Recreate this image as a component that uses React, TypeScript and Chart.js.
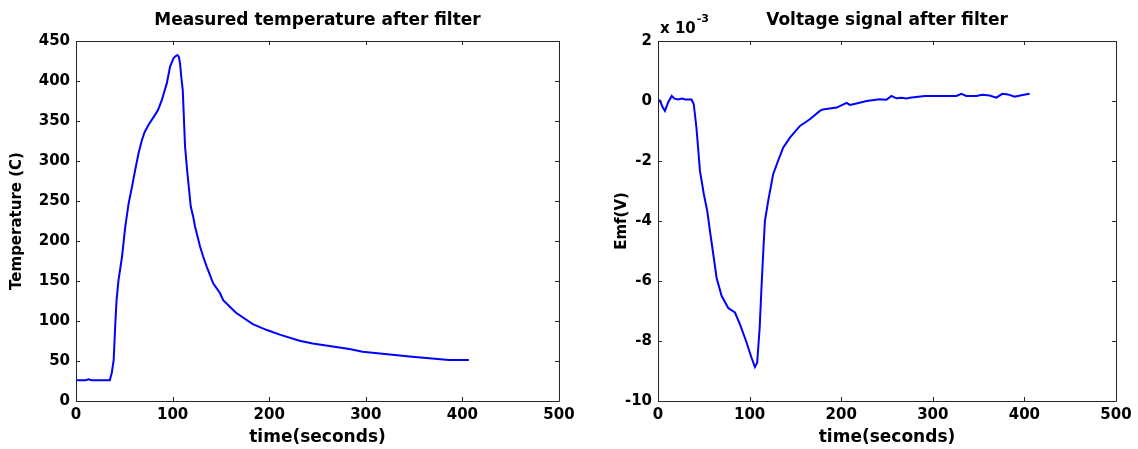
import React, { useEffect, useRef } from 'react';
import { Chart, registerables } from 'chart.js';

Chart.register(...registerables);

// ---------- data ----------
const tempTime = [0, 5, 10, 13, 16, 25, 35, 37, 39, 40.7, 42, 44, 47.6, 51, 54.5, 58, 61.3, 64.8, 68.2, 71, 75, 82, 85, 88.8, 91, 94, 97.4, 100.8, 103, 105, 106.5, 107.7, 109, 110.5, 112.9, 115.3, 118.8, 121.4, 123.2, 128.4, 131.8, 135.3, 142, 149, 152.4, 162.7, 166, 183, 197, 200.5, 211, 231.4, 245, 283, 296.7, 348, 386, 406.7];
const tempValues = [26, 25.8, 26, 27, 26, 25.8, 25.8, 35, 51, 97, 126, 151, 180, 218, 247, 268, 289, 310, 326, 336, 345, 358, 364, 376, 385, 397, 418, 428, 431, 432.5, 430, 422, 405, 389, 318, 285, 243, 230, 218, 193, 180, 168, 147, 135, 126, 113.7, 110, 96, 89, 87.5, 83, 75.4, 72, 65, 61.6, 55.4, 51.2, 51.2];

const emfTime = [0, 2, 5, 7.6, 11, 15, 18, 22, 26, 30, 36.6, 39, 42, 45.8, 50, 53.8, 56.7, 60.3, 64, 69.5, 76.7, 84, 89.4, 96.7, 102, 105.8, 108.3, 111, 113, 114.8, 116.7, 120.3, 125.7, 131, 136.6, 144, 155, 165.8, 176.7, 180, 195, 206, 209.4, 216.7, 227.6, 242, 249.4, 254.8, 260.3, 265.7, 271.2, 274.8, 291.2, 325.7, 331.2, 336.6, 347.5, 354, 362, 369.3, 375.9, 382, 389.3, 396.6, 405.7];
// Emf in units of 10^-3 V
const emfValues = [0, 0.02, -0.2, -0.33, -0.05, 0.17, 0.08, 0.05, 0.08, 0.05, 0.05, -0.1, -0.9, -2.33, -3.1, -3.67, -4.33, -5.1, -5.9, -6.5, -6.9, -7.05, -7.44, -8.05, -8.55, -8.87, -8.72, -7.55, -6.2, -5.1, -4.0, -3.33, -2.44, -2.0, -1.56, -1.22, -0.83, -0.61, -0.33, -0.28, -0.22, -0.06, -0.13, -0.08, 0, 0.06, 0.04, 0.17, 0.09, 0.11, 0.08, 0.11, 0.17, 0.17, 0.24, 0.17, 0.17, 0.21, 0.18, 0.11, 0.24, 0.22, 0.14, 0.19, 0.24];

const xTicks = [0, 100, 200, 300, 400, 500];
const tempTicks = [0, 50, 100, 150, 200, 250, 300, 350, 400, 450];
const emfTicks = [-10, -8, -6, -4, -2, 0, 2];

const leftTitle = 'Measured temperature after filter';
const rightTitle = 'Voltage signal after filter';
const xLabel = 'time(seconds)';
const leftYLabel = 'Temperature (C)';
const rightYLabel = 'Emf(V)';
const sciBase = 'x 10';
const sciExp = '-3';

const FAMILY = 'DejaVu Sans';

const framePlugin = {
  id: 'frameTicks',
  afterDatasetsDraw(chart: any) {
    const { ctx, chartArea: a, scales } = chart;
    ctx.save();
    ctx.strokeStyle = '#262626';
    ctx.lineWidth = 1;
    ctx.beginPath();
    ctx.rect(a.left + 0.5, a.top + 0.5, a.right - a.left, a.bottom - a.top);
    ctx.stroke();
    const L = 4;
    ctx.beginPath();
    for (const t of scales.x.ticks) {
      const px = Math.round(scales.x.getPixelForValue(t.value)) + 0.5;
      ctx.moveTo(px, a.bottom);
      ctx.lineTo(px, a.bottom - L);
      ctx.moveTo(px, a.top);
      ctx.lineTo(px, a.top + L);
    }
    for (const t of scales.y.ticks) {
      const py = Math.round(scales.y.getPixelForValue(t.value)) + 0.5;
      ctx.moveTo(a.left, py);
      ctx.lineTo(a.left + L, py);
      ctx.moveTo(a.right, py);
      ctx.lineTo(a.right - L, py);
    }
    ctx.stroke();
    ctx.restore();
  },
};

const sciPlugin = {
  id: 'sciLabel',
  afterDraw(chart: any, _args: any, opts: any) {
    if (!opts || !opts.base) return;
    const { ctx, chartArea: a } = chart;
    ctx.save();
    ctx.fillStyle = '#000';
    ctx.textAlign = 'left';
    ctx.textBaseline = 'alphabetic';
    ctx.font = `bold 15px "${FAMILY}"`;
    ctx.fillText(opts.base, a.left + 2, 33);
    const w = ctx.measureText(opts.base).width;
    ctx.font = `bold 11px "${FAMILY}"`;
    ctx.fillText(opts.exp, a.left + 3 + w, 22);
    ctx.restore();
  },
};

function makeConfig(opts: {
  xs: number[]; ys: number[]; title: string; yLabel: string; yMin: number; yMax: number;
  yTicks: number[]; yWidth: number; yTitlePad: number; padRight: number; sci: boolean;
}) {
  const tickFont = { family: FAMILY, size: 15, weight: 'bold' as const };
  const labelFont = { family: FAMILY, size: 17, weight: 'bold' as const };
  return {
    type: 'line' as const,
    data: {
      datasets: [
        {
          data: opts.xs.map((x, i) => ({ x, y: opts.ys[i] })),
          borderColor: '#0000ff',
          borderWidth: 2,
          pointRadius: 0,
          tension: 0,
          fill: false,
        },
      ],
    },
    options: {
      animation: false,
      responsive: false,
      layout: { padding: { left: 0, top: 0, right: opts.padRight, bottom: 0 } },
      plugins: {
        legend: { display: false },
        tooltip: { enabled: false },
        title: {
          display: true,
          text: opts.title,
          fullSize: false,
          color: '#000',
          font: labelFont,
          padding: { top: 10, bottom: 10.6 },
        },
        sciLabel: opts.sci ? { base: sciBase, exp: sciExp } : {},
      },
      scales: {
        x: {
          type: 'linear',
          min: 0,
          max: 500,
          afterBuildTicks: (s: any) => {
            s.ticks = xTicks.map((value) => ({ value }));
          },
          afterFit: (s: any) => {
            s.height = 48;
          },
          ticks: { font: tickFont, color: '#000', padding: 5, maxRotation: 0, autoSkip: false },
          grid: { display: false, drawTicks: false },
          border: { display: false },
          title: {
            display: true,
            text: xLabel,
            color: '#000',
            font: labelFont,
            padding: { top: 0, bottom: 1 },
          },
        },
        y: {
          type: 'linear',
          min: opts.yMin,
          max: opts.yMax,
          afterBuildTicks: (s: any) => {
            s.ticks = opts.yTicks.map((value) => ({ value }));
          },
          afterFit: (s: any) => {
            s.width = opts.yWidth;
          },
          ticks: { font: tickFont, color: '#000', padding: 6, autoSkip: false },
          grid: { display: false, drawTicks: false },
          border: { display: false },
          title: {
            display: true,
            text: opts.yLabel,
            color: '#000',
            font: { family: FAMILY, size: 15, weight: 'bold' as const },
            padding: { top: opts.yTitlePad, bottom: 0 },
          },
        },
      },
    },
    plugins: [framePlugin, sciPlugin],
  };
}

function ChartCanvas(props: { config: any; left: number; width: number }) {
  const ref = useRef<HTMLCanvasElement | null>(null);
  useEffect(() => {
    if (!ref.current) return;
    const chart = new Chart(ref.current, props.config);
    return () => chart.destroy();
  }, []);
  return (
    <canvas
      ref={ref}
      width={props.width}
      height={449}
      style={{ position: 'absolute', left: props.left, top: 0, width: props.width, height: 449 }}
    />
  );
}

export default function App() {
  const leftCfg = makeConfig({
    xs: tempTime, ys: tempValues, title: leftTitle, yLabel: leftYLabel,
    yMin: 0, yMax: 450, yTicks: tempTicks, yWidth: 76, yTitlePad: 8, padRight: 41, sci: false,
  });
  const rightCfg = makeConfig({
    xs: emfTime, ys: emfValues, title: rightTitle, yLabel: rightYLabel,
    yMin: -10, yMax: 2, yTicks: emfTicks, yWidth: 78, yTitlePad: 33, padRight: 22, sci: true,
  });
  return (
    <div style={{ position: 'absolute', left: 0, top: 0, width: 1138, height: 449, background: '#fff' }}>
      <ChartCanvas config={leftCfg} left={0} width={600} />
      <ChartCanvas config={rightCfg} left={580} width={558} />
    </div>
  );
}
